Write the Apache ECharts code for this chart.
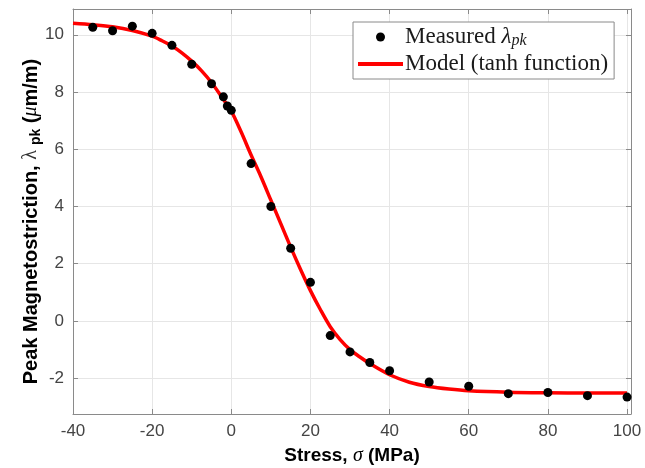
<!DOCTYPE html>
<html><head><meta charset="utf-8">
<script src="https://cdn.jsdelivr.net/npm/echarts@6/dist/echarts.min.js"></script>
<style>html,body{margin:0;padding:0;background:#fff}#c{width:645px;height:468px}</style>
</head><body><div id="c"></div>
<script>
// Measured peak magnetostriction (µm/m) vs stress (MPa)
const measuredStress = [-35, -30, -25, -20, -15, -10, -5, -2, -1, 0, 5, 10, 15, 20, 25, 30, 35, 40, 50, 60, 70, 80, 90, 100];
const measuredLambda = [10.26, 10.14, 10.30, 10.05, 9.63, 8.97, 8.29, 7.83, 7.51, 7.36, 5.50, 4.00, 2.54, 1.35, -0.51, -1.08, -1.45, -1.74, -2.13, -2.28, -2.54, -2.50, -2.61, -2.66];
// Model curve (tanh function)
const modelStress = [-40, -35, -30, -25, -20, -17.5, -15, -12.5, -10, -7.5, -5, -2.5, 0, 2.5, 5, 7.5, 10, 12.5, 15, 17.5, 20, 22.5, 25, 27.5, 30, 32.5, 35, 40, 45, 50, 55, 60, 70, 80, 90, 100];
const modelLambda = [10.40, 10.35, 10.28, 10.15, 9.95, 9.79, 9.61, 9.37, 9.08, 8.74, 8.33, 7.84, 7.33, 6.60, 5.80, 5.04, 4.22, 3.40, 2.58, 1.80, 1.06, 0.40, -0.20, -0.65, -1.00, -1.26, -1.49, -1.88, -2.14, -2.29, -2.38, -2.44, -2.49, -2.51, -2.52, -2.52];
const xTicks = [-40, -20, 0, 20, 40, 60, 80, 100];
const yTicks = [-2, 0, 2, 4, 6, 8, 10];

const axisGray = '#8a8a8a';
const labelGray = '#444444';
const gridGray = '#e6e6e6';

const chart = echarts.init(document.getElementById('c'));

function axisBase(isX, pos, show) {
  return {
    type: 'value',
    position: pos,
    min: isX ? -40 : -3.25,
    max: isX ? 101 : 10.9,
    axisLine: { show: true, onZero: false, lineStyle: { color: axisGray, width: 1 } },
    axisTick: { show: true, inside: true, length: 5, customValues: isX ? xTicks : yTicks, lineStyle: { color: axisGray } },
    axisLabel: show ? {
      show: true, customValues: isX ? xTicks : yTicks,
      fontFamily: 'Liberation Sans, Arial, sans-serif', fontSize: 17, color: labelGray,
      margin: 9
    } : { show: false },
    splitLine: { show: show, lineStyle: { color: gridGray, width: 1 } }
  };
}

const xMain = axisBase(true, 'bottom', true);
xMain.name = '{b|Stress, }{i|σ}{b| (MPa)}';
xMain.nameLocation = 'middle';
xMain.nameGap = 32;
xMain.nameMoveOverlap = false;
xMain.nameTextStyle = {
  rich: {
    b: { fontFamily: 'Liberation Sans, Arial, sans-serif', fontWeight: 'bold', fontSize: 19, color: '#000' },
    i: { fontFamily: 'Liberation Serif, serif', fontStyle: 'italic', fontSize: 20, color: '#000' }
  }
};
const xTop = axisBase(true, 'top', false);

const yMain = axisBase(false, 'left', true);
yMain.name = '{b|Peak Magnetostriction, }{g|λ }{s|pk}{b| (}{gi|μ}{b|m/m)}';
yMain.nameLocation = 'middle';
yMain.nameGap = 30;
yMain.nameMoveOverlap = false;
yMain.nameRotate = 90;
yMain.nameTextStyle = {
  padding: [0, 20, 0, 0],
  rich: {
    b: { fontFamily: 'Liberation Sans, Arial, sans-serif', fontWeight: 'bold', fontSize: 20, color: '#000', lineHeight: 24 },
    g: { fontFamily: 'Liberation Serif, serif', fontSize: 20, color: '#333', lineHeight: 24 },
    s: { fontFamily: 'Liberation Sans, Arial, sans-serif', fontWeight: 'bold', fontSize: 14, color: '#000', verticalAlign: 'bottom', lineHeight: 24 },
    gi: { fontFamily: 'Liberation Serif, serif', fontStyle: 'italic', fontSize: 20, color: '#000', lineHeight: 24 }
  }
};
const yRight = axisBase(false, 'right', false);

chart.setOption({
  animation: false,
  backgroundColor: '#ffffff',
  grid: { left: 73, right: 14, top: 9, bottom: 54, containLabel: false, outerBoundsMode: 'none' },
  xAxis: [xMain, xTop],
  yAxis: [yMain, yRight],
  legend: {
    orient: 'vertical',
    left: 353, top: 22,
    itemWidth: 45, itemHeight: 9, itemGap: 3,
    padding: [3, 6, 3, 5],
    backgroundColor: '#ffffff',
    borderColor: axisGray, borderWidth: 1,
    textStyle: {
      fontFamily: 'Liberation Serif, serif', fontSize: 23, color: '#1a1a1a', lineHeight: 24,
      padding: [0, 0, 0, -3],
      rich: {
        l: { fontFamily: 'Liberation Serif, serif', fontStyle: 'italic', fontSize: 23, color: '#1a1a1a', lineHeight: 24 },
        s: { fontFamily: 'Liberation Serif, serif', fontStyle: 'italic', fontSize: 16, color: '#1a1a1a', verticalAlign: 'bottom', lineHeight: 24 }
      }
    },
    data: [
      { name: 'Measured', icon: 'circle', itemStyle: { opacity: 1 } },
      { name: 'Model', icon: 'path://M0,0L45,0L45,4L0,4Z' }
    ],
    formatter: function (n) {
      return n === 'Measured' ? 'Measured {l|λ}{s|pk}' : 'Model (tanh function)';
    }
  },
  series: [
    {
      name: 'Model',
      type: 'line',
      xAxisIndex: 0, yAxisIndex: 0,
      data: modelStress.map((x, i) => [x, modelLambda[i]]),
      smooth: 0.3,
      showSymbol: false,
      symbol: 'none',
      lineStyle: { color: '#ff0000', width: 3.5 },
      itemStyle: { color: '#ff0000' },
      z: 2
    },
    {
      name: 'Measured',
      type: 'scatter',
      xAxisIndex: 0, yAxisIndex: 0,
      data: measuredStress.map((x, i) => [x, measuredLambda[i]]),
      symbol: 'circle',
      symbolSize: 9,
      itemStyle: { color: '#000000', opacity: 1 },
      z: 3
    }
  ]
});
</script>
</body></html>
